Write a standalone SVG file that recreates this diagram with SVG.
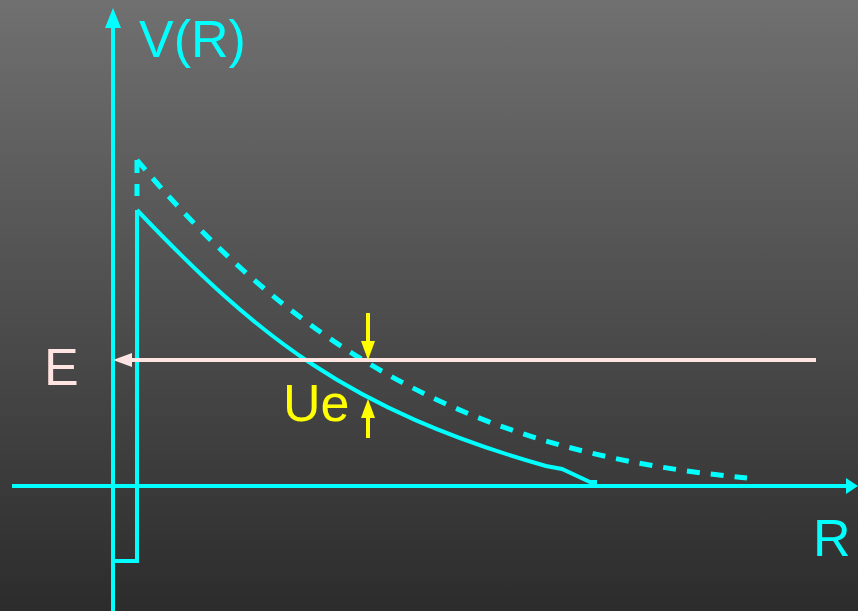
<svg xmlns="http://www.w3.org/2000/svg" width="858" height="611" viewBox="0 0 858 611">
<defs>
<linearGradient id="bg" x1="0" y1="0" x2="0" y2="1">
<stop offset="0" stop-color="#707070"/>
<stop offset="1" stop-color="#2c2c2c"/>
</linearGradient>
<style>
.cy{stroke:#00ffff;stroke-width:4;fill:none}
.dash{stroke-dasharray:13 11;stroke-width:5}
.lbl{font-family:"Liberation Sans",Arial,sans-serif;font-size:52px}
</style>
</defs>
<rect width="858" height="611" fill="url(#bg)"/>
<g id="connectors">
<g id="v-axis">
<line class="cy" x1="113" y1="611" x2="113" y2="26"/>
<polygon points="113,8 105,28 121,28" fill="#00ffff"/>
</g>
<g id="r-axis">
<line class="cy" x1="12" y1="486" x2="848" y2="486"/>
<polygon points="858,486 846,478 846,494" fill="#00ffff"/>
</g>
<g id="well">
<polyline class="cy" points="137,210 137,561 113,561"/>
</g>
<g id="solid-curve">
<path class="cy" d="M137,210 C257,336 348,410 546,466 L562,469 L590,482 L597,482"/>
</g>
<g id="dashed-curve">
<line class="cy dash" x1="137" y1="160" x2="137" y2="196"/>
<path class="cy dash" d="M137,160 C330,390 527,457 747,478"/>
</g>
<g id="energy-line">
<line x1="816" y1="360" x2="130" y2="360" stroke="#ffe4e1" stroke-width="4"/>
<polygon points="113,360 132,353 132,367" fill="#ffe4e1"/>
</g>
<g id="ue-arrows">
<line x1="368" y1="313" x2="368" y2="345" stroke="#ffff00" stroke-width="4"/>
<polygon points="368,360 361,341 375,341" fill="#ffff00"/>
<line x1="368" y1="438" x2="368" y2="414" stroke="#ffff00" stroke-width="4"/>
<polygon points="368,399 361,418 375,418" fill="#ffff00"/>
</g>
</g>
<g id="labels">
<text id="label-V" class="lbl" x="139" y="57" fill="#00ffff">V(R)</text>
<text id="label-E" class="lbl" x="44" y="385" fill="#ffe4e1">E</text>
<text id="label-Ue" class="lbl" x="283" y="421" fill="#ffff00">Ue</text>
<text id="label-R" class="lbl" x="813" y="556" fill="#00ffff">R</text>
</g>
</svg>
